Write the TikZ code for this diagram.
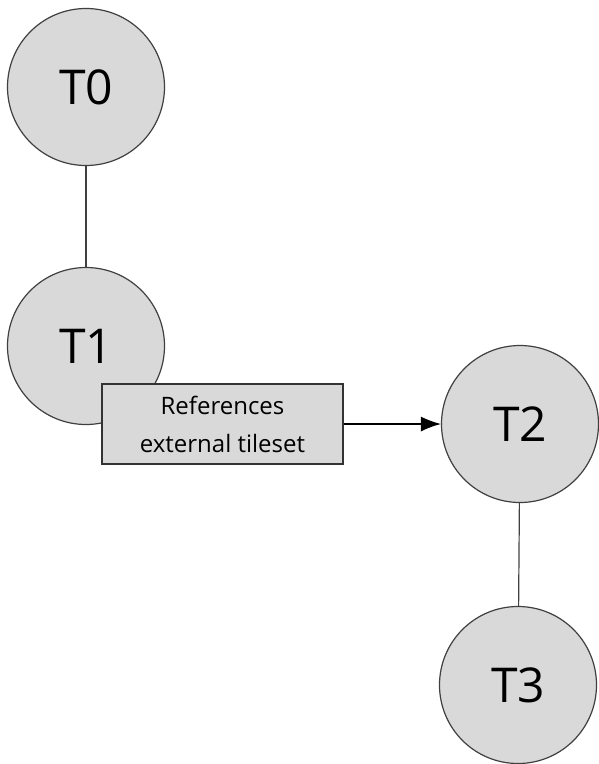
\documentclass[tikz,border=0pt]{standalone}
\usepackage{fontspec}
\setmainfont{Open Sans}
\usepackage{xcolor}
\usepackage{tikz}
\usetikzlibrary{shapes,arrows.meta,positioning}

\definecolor{tilegray}{HTML}{D9D9D9}
\definecolor{edgegray}{HTML}{404040}

\begin{document}
\begin{tikzpicture}[x=1pt, y=-1pt,
        tile/.style={draw=edgegray, circle, line width=1.2pt, fill=tilegray, minimum size=157pt, inner sep=0pt, font=\fontsize{48}{56}\selectfont},
        note/.style={draw=black!80, rectangle, line width=1.2pt, fill=tilegray, minimum width=241pt, minimum height=80pt, align=center, font=\fontsize{24}{38}\selectfont}]
        \useasboundingbox (0,0) rectangle (598,764);

        \node[tile] (t0) at (86,87) {T0};
        \node[tile] (t1) at (86,346) {T1};
        \node[tile] (t2) at (520,424) {T2};
        \node[tile] (t3) at (518,685) {T3};

        \draw[edgegray, line width=1.2pt] (t0) -- (t1);
        \draw[edgegray, line width=1.2pt] (t2) -- (t3);

        \node[note] (ref) at (222.5,424) {References\\external tileset};

        \draw[-{Latex[length=20pt, width=15pt]}, line width=1.2pt] (ref) -- (t2);
    \end{tikzpicture}
\end{document}
